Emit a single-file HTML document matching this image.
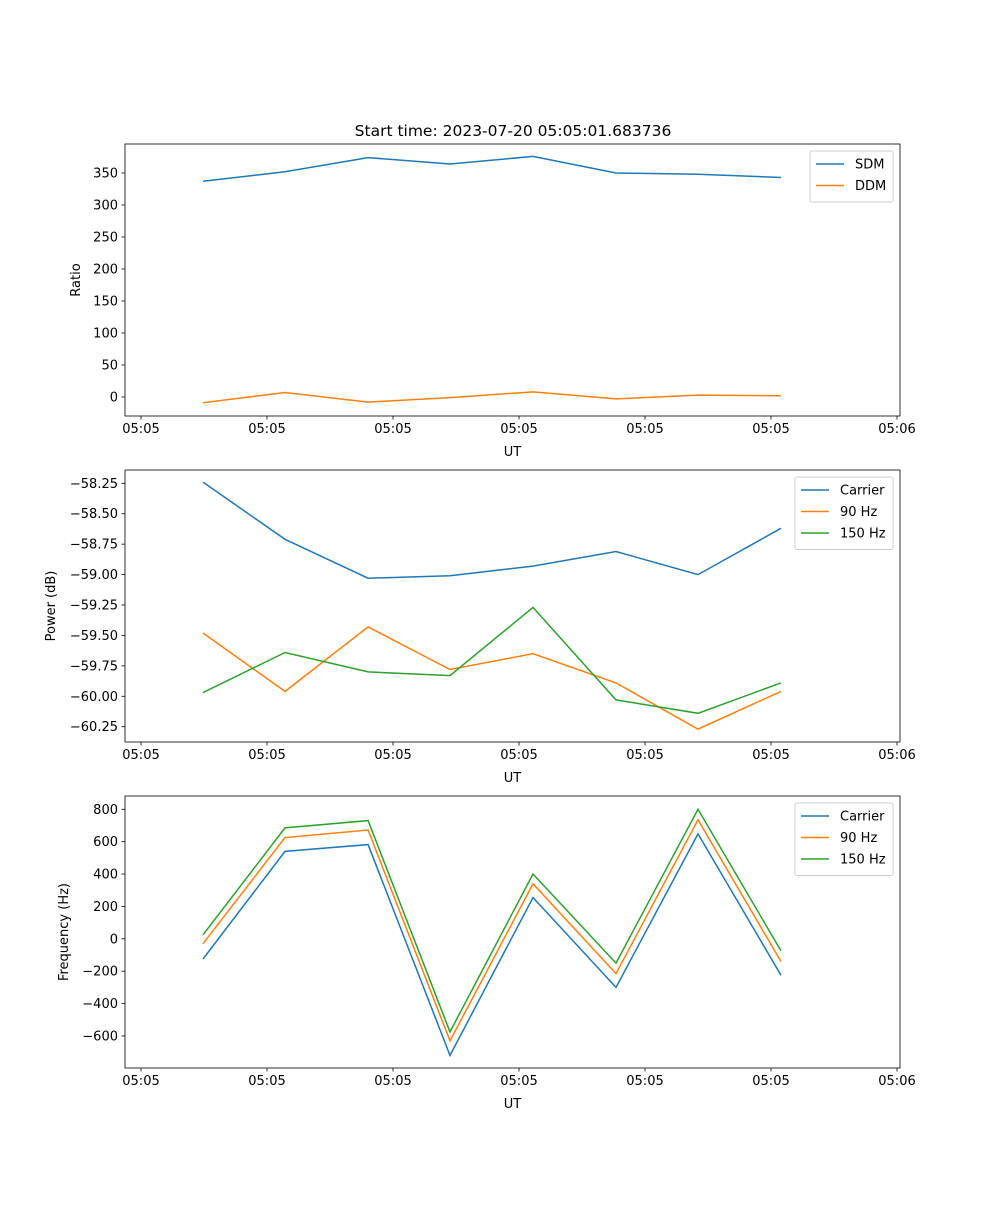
<!DOCTYPE html>
<html><head><meta charset="utf-8"><style>
body{margin:0;background:#fff;}
svg text{font-family:"DejaVu Sans","Liberation Sans",sans-serif;font-size:13px;fill:#000;}
</style></head><body>
<svg id="fig" width="1000" height="1200" xmlns="http://www.w3.org/2000/svg">
<text x="513" y="136" text-anchor="middle" font-size="15.5" style="font-size:15.5px">Start time: 2023-07-20 05:05:01.683736</text>
</svg>
<script>
const times=[4.92,11.43,18.02,24.52,31.11,37.70,44.21,50.79];
const xTicks=[0,10,20,30,40,50,60];
const xTickLabels=["05:05","05:05","05:05","05:05","05:05","05:05","05:06"];
const sdm=[337,352,374,364,376,350,348,343];
const ddm=[-9,7,-8,-1,8,-3,3,2];
const ratioTicks=[0,50,100,150,200,250,300,350];
const pCarrier=[-58.24,-58.71,-59.03,-59.01,-58.93,-58.81,-59.00,-58.62];
const p90=[-59.48,-59.96,-59.43,-59.78,-59.65,-59.89,-60.27,-59.96];
const p150=[-59.97,-59.64,-59.80,-59.83,-59.27,-60.03,-60.14,-59.89];
const powerTicks=[-58.25,-58.5,-58.75,-59,-59.25,-59.5,-59.75,-60,-60.25];
const fCarrier=[-125,540,582,-720,255,-300,648,-225];
const f90=[-30,625,672,-630,340,-215,735,-140];
const f150=[25,685,730,-575,400,-150,800,-75];
const freqTicks=[-600,-400,-200,0,200,400,600,800];

const NS="http://www.w3.org/2000/svg";
const svg=document.getElementById('fig');
const L=125,R=900;
function xs(t){return 141+t*12.6;}
function mk(tag,attrs,parent){const e=document.createElementNS(NS,tag);for(const k in attrs)e.setAttribute(k,attrs[k]);(parent||svg).appendChild(e);return e;}
const colors=["#1f77b4","#ff7f0e","#2ca02c"];
function panel(id,top,bot,ys,yTicks,fmt,ylabel,ylabelX,series,names,legW){
  const g=mk('g',{});
  
  
  series.forEach((s,i)=>{
    const d=s.map((v,j)=>(j?'L':'M')+xs(times[j]).toFixed(1)+' '+ys(v).toFixed(1)).join(' ');
    const p=mk('path',{d:d,fill:'none',stroke:colors[i],'stroke-width':1.5},g);
    
    
  });
  const fr=mk('rect',{x:L,y:top,width:R-L,height:bot-top,fill:'none',stroke:'#000','stroke-width':0.8},g);
  
  
  xTicks.forEach((t,i)=>{
    const x=xs(t);
    mk('line',{x1:x,x2:x,y1:bot,y2:bot+3.5,stroke:'#000','stroke-width':0.8},g);
    const tx=mk('text',{x:x,y:bot+17,'text-anchor':'middle'},g);
    tx.textContent=xTickLabels[i];
    
    
  });
  const xl=mk('text',{x:(L+R)/2,y:bot+40,'text-anchor':'middle'},g);
  xl.textContent='UT';
  
  
  yTicks.forEach(v=>{
    const y=ys(v);
    mk('line',{x1:L-3.5,x2:L,y1:y,y2:y,stroke:'#000','stroke-width':0.8},g);
    const tx=mk('text',{x:L-7,y:y+4.5,'text-anchor':'end'},g);
    tx.textContent=fmt(v).replace('-','\u2212');
    
    
  });
  const cy=(top+bot)/2;
  const yl=mk('text',{x:ylabelX,y:cy,'text-anchor':'middle',transform:'rotate(-90 '+ylabelX+' '+cy+')'},g);
  yl.textContent=ylabel;
  
  
  const lg=mk('g',{},g);
  
  
  const lx=R-7-legW, ly=top+7;
  mk('rect',{x:lx,y:ly,width:legW,height:8+names.length*21.5,fill:'#fff',stroke:'#ccc','stroke-width':1,rx:2},lg);
  names.forEach((n,i)=>{
    const yy=ly+13+i*21.5;
    mk('line',{x1:lx+6,x2:lx+34,y1:yy,y2:yy,stroke:colors[i],'stroke-width':1.5},lg);
    const t=mk('text',{x:lx+45,y:yy+4.5},lg);
    t.textContent=n;
    
    
  });
}
panel('ratio',144,416,v=>397-v*0.64,ratioTicks,v=>String(v),'Ratio',80,[sdm,ddm],['SDM','DDM'],83);
panel('power',470,742,v=>483.3-(v+58.25)*121.7,powerTicks,v=>v.toFixed(2),'Power (dB)',55,[pCarrier,p90,p150],['Carrier','90 Hz','150 Hz'],98);
panel('freq',796,1068,v=>938.8-v*0.1619,freqTicks,v=>String(v),'Frequency (Hz)',68,[fCarrier,f90,f150],['Carrier','90 Hz','150 Hz'],98);
</script>
</body></html>
